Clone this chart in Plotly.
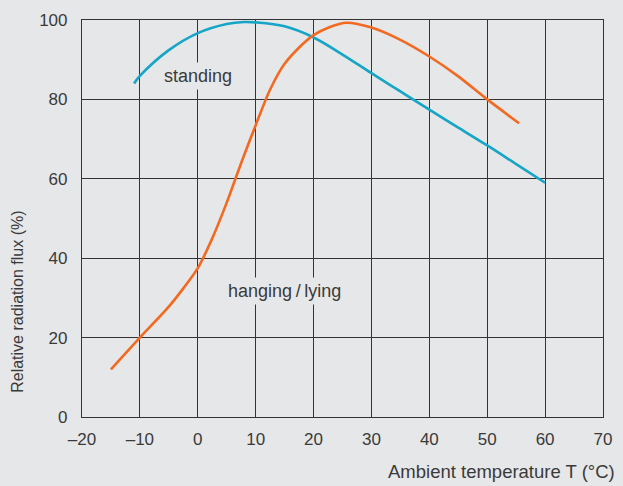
import plotly.graph_objects as go

# Relative radiation flux vs. ambient temperature
standing_t = [-11, -10, -5, 0, 5, 8, 10, 15, 20, 25, 30, 35, 40, 45, 50, 55, 60]
standing_flux = [84, 85.9, 92.4, 96.7, 99.0, 99.5, 99.4, 98.4, 95.6, 91.3, 86.6, 82.0, 77.4, 72.9, 68.4, 63.7, 59.0]

hanging_t = [-15, -10, -5, -2.5, 0, 2.5, 5, 7.5, 10, 12.5, 15, 20, 25.5, 30, 35, 40, 45, 50, 55.5]
hanging_flux = [12, 20, 27.8, 32.4, 37.5, 45.0, 54.0, 64.0, 73.5, 82.5, 89.0, 96.2, 99.3, 98.1, 95.0, 90.8, 85.8, 80.0, 74.0]

x_ticks = [-20, -10, 0, 10, 20, 30, 40, 50, 60, 70]
x_ticktext = ["\u201320", "\u201310", "0", "10", "20", "30", "40", "50", "60", "70"]
y_ticks = [0, 20, 40, 60, 80, 100]

BG = "#e6e7e8"
GRID = "#333333"
TEXT = "#3a3a3a"
FONT = "Liberation Sans, Arial, sans-serif"

fig = go.Figure()
fig.add_trace(go.Scatter(x=standing_t, y=standing_flux, mode="lines",
                         line=dict(color="#15a5c7", width=2.6, shape="spline", smoothing=1.0),
                         hoverinfo="skip"))
fig.add_trace(go.Scatter(x=hanging_t, y=hanging_flux, mode="lines",
                         line=dict(color="#f26a21", width=2.6, shape="spline", smoothing=0.8),
                         hoverinfo="skip"))

axis_common = dict(showgrid=True, gridcolor=GRID, gridwidth=1.2,
                   showline=True, linecolor=GRID, linewidth=1.2, mirror=True,
                   zeroline=False, ticks="", tickfont=dict(family=FONT, size=17, color=TEXT))

fig.update_xaxes(range=[-20, 70], tickvals=x_ticks, ticktext=x_ticktext,
                 ticklabelstandoff=6, **axis_common)
fig.update_yaxes(range=[0, 100], tickvals=y_ticks, ticklabelstandoff=10, **axis_common)

# Curve labels, boxed in the background colour so they break the grid
fig.add_annotation(x=0, y=85.8, text="standing", showarrow=False,
                   font=dict(family=FONT, size=18, color=TEXT),
                   bgcolor=BG, borderpad=3)
fig.add_annotation(x=15, y=31.7, text="hanging\u2009/\u2009lying", showarrow=False,
                   font=dict(family=FONT, size=18, color=TEXT),
                   bgcolor=BG, borderpad=3)

# Axis titles
fig.add_annotation(xref="paper", yref="paper", x=1.026, y=-0.137, xanchor="right", yanchor="middle",
                   text="Ambient temperature T (\u00b0C)", showarrow=False,
                   font=dict(family=FONT, size=18.5, color=TEXT))
fig.add_annotation(xref="paper", yref="paper", x=-0.123, y=0.29, xanchor="center", yanchor="middle",
                   text="Relative radiation flux (%)", textangle=-90, showarrow=False,
                   font=dict(family=FONT, size=16, color=TEXT))

fig.update_layout(width=623, height=486, paper_bgcolor=BG, plot_bgcolor=BG,
                  margin=dict(l=82, r=11, t=16, b=69), showlegend=False)

fig.write_html("out.html")
